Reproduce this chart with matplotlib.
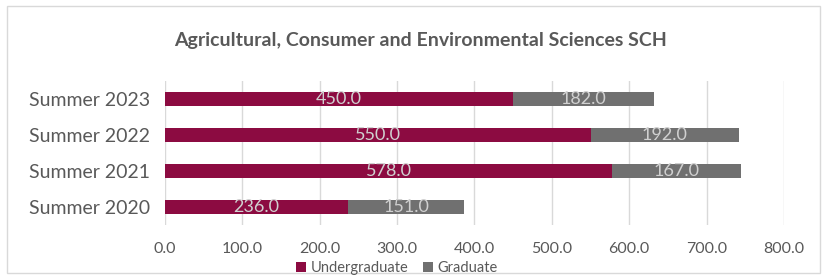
import matplotlib
matplotlib.use("Agg")
import matplotlib.pyplot as plt
from matplotlib.patches import Rectangle, Patch

# data
terms = ["Summer 2020", "Summer 2021", "Summer 2022", "Summer 2023"]
undergrad = [236.0, 578.0, 550.0, 450.0]
grad = [151.0, 167.0, 192.0, 182.0]
xticks = [0, 100, 200, 300, 400, 500, 600, 700, 800]

MAROON = "#8c0b41"
GREY = "#707070"
TXT = "#595959"
LBL = "#d0d0d0"

plt.rcParams["font.family"] = ["Lato", "DejaVu Sans"]

fig = plt.figure(figsize=(8.27, 2.76), dpi=100)
ax = fig.add_axes([0.1995, 0.185, 0.7485, 0.5215])

h = 0.39
b1 = ax.barh(terms, undergrad, height=h, color=MAROON, zorder=3)
b2 = ax.barh(terms, grad, left=undergrad, height=h, color=GREY, zorder=3)
for bars in (b1, b2):
    ax.bar_label(bars, labels=[f"{v:.1f}" for v in bars.datavalues],
                 label_type="center", color=LBL, fontsize=13)

ax.set_xlim(0, 800)
ax.set_ylim(-0.5, 3.5)
ax.set_xticks(xticks)
ax.set_xticklabels([f"{v:.1f}" for v in xticks], color=TXT, fontsize=11.5)
ax.tick_params(axis="y", labelsize=14, colors=TXT, length=0, pad=11)
ax.tick_params(axis="x", length=0, pad=12)
ax.grid(axis="x", color="#d9d9d9", lw=1, zorder=0)
for s in ax.spines.values():
    s.set_visible(False)

fig.text(0.508, 0.855, "Agricultural, Consumer and Environmental Sciences SCH",
         ha="center", va="center", fontsize=14, fontweight="bold", color=TXT)

leg = [Patch(fc=MAROON, label="Undergraduate"), Patch(fc=GREY, label="Graduate")]
fig.legend(handles=leg, loc="center", bbox_to_anchor=(0.48, 0.03), ncol=2,
           frameon=False, fontsize=10.5, labelcolor=TXT, handlelength=0.7,
           handleheight=0.7, handletextpad=0.3, columnspacing=1.0)

fig.patches.append(Rectangle((0.009, 0.01), 0.982, 0.968, transform=fig.transFigure,
                             fill=False, ec="#d9d9d9", lw=1))

fig.savefig("out.png", dpi=100)
